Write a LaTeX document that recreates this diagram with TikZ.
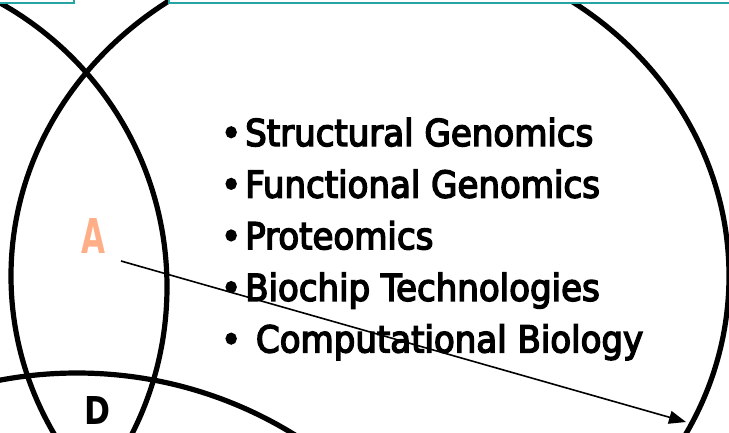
\documentclass[tikz,border=0pt]{standalone}
\usepackage{fontspec}
\setmainfont{DejaVu Sans}
\newfontfamily\listfont{DejaVu Sans}[FakeStretch=0.92,FakeBold=4]
\usetikzlibrary{arrows.meta}
\definecolor{tealline}{HTML}{26A3A3}
\definecolor{apeach}{HTML}{FFAF87}
\newcommand{\bul}{\llap{•\hspace{4pt}}}
\tikzset{
  setcircle/.style={draw=black, line width=5.2pt},
  topbox/.style={draw=tealline, line width=1.5pt, fill=white},
  listitem/.style={anchor=base west, inner sep=0pt, font=\listfont\fontsize{37}{40}\selectfont},
  pointer/.style={line width=1.6pt, -{Triangle[length=17pt,width=13pt]}}
}
\begin{document}
\begin{tikzpicture}[x=1pt,y=-1pt]
\useasboundingbox (0,0) rectangle (729,432);
\clip (0,0) rectangle (729,432);
% circles
\draw[setcircle] (370,276) ellipse [x radius=359pt, y radius=332pt];
\draw[setcircle] (-158,287) circle [radius=325pt];
\draw[setcircle] (77,787) circle [radius=414pt];
% top boxes
\draw[topbox] (-20,-20) rectangle (74,3);
\draw[topbox] (169,-20) rectangle (750,3);
% labels
\node[inner sep=0pt, text=apeach] (A) at (93.5,235.5) {\resizebox{24pt}{35pt}{\bfseries A}};
\node[inner sep=0pt] (D) at (97.5,410) {\resizebox{26pt}{28pt}{\bfseries D}};
% list
\node[listitem] (l1) at (245,146) {\bul Structural Genomics};
\node[listitem] (l2) at (245,197.6) {\bul Functional Genomics};
\node[listitem] (l3) at (245,249.2) {\bul Proteomics};
\node[listitem] (l4) at (245,300.8) {\bul Biochip Technologies};
\node[listitem] (l5) at (245,352.4) {\bul{} Computational Biology};
% arrow
\coordinate (s) at (121,261);
\coordinate (e) at (686,422);
\draw[pointer] (s) -- (e);
\end{tikzpicture}
\end{document}
